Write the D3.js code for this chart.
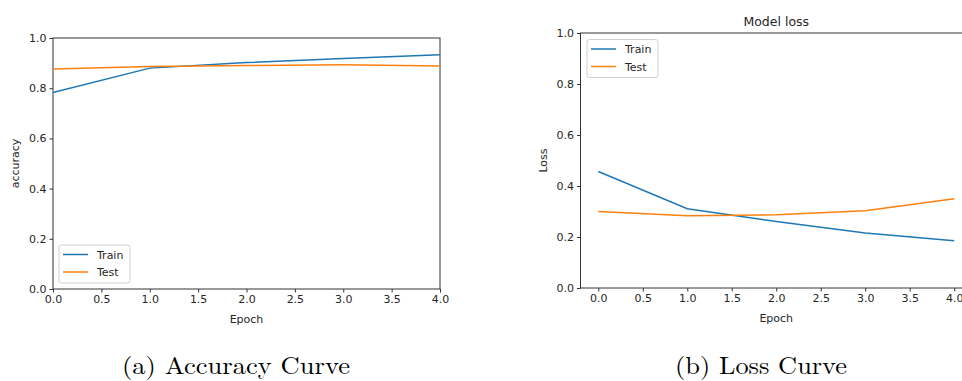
<!DOCTYPE html>
<html>
<head>
<meta charset="utf-8">
<script src="https://cdn.jsdelivr.net/npm/d3@7"></script>
<style>
  body { margin: 0; background: #fff; }
  svg { display: block; }
  text { font-family: "DejaVu Sans", sans-serif; fill: #262626; }
  .caption { font-family: "Latin Modern Roman", "DejaVu Serif", serif; fill: #000; }
</style>
</head>
<body>
<svg id="chart" width="962" height="381"></svg>
<script>
// data
const epochs = [0, 1, 2, 3, 4]
const accTrain = [0.783, 0.880, 0.902, 0.918, 0.933]
const accTest = [0.876, 0.886, 0.890, 0.893, 0.888]
const lossTrain = [0.457, 0.311, 0.261, 0.216, 0.185]
const lossTest = [0.300, 0.283, 0.287, 0.303, 0.350]
const xTicks = [0, 0.5, 1, 1.5, 2, 2.5, 3, 3.5, 4]
const yTicks = [0, 0.2, 0.4, 0.6, 0.8, 1.0]
const seriesNames = ["Train", "Test"]
const colors = ["#1f77b4", "#ff7f0e"]

const svg = d3.select("#chart")

function drawPanel(cfg) {
  const x = d3.scaleLinear().domain(cfg.xDomain).range([cfg.left, cfg.right])
  const y = d3.scaleLinear().domain([0, 1]).range([cfg.bottom, cfg.top])
  const g = svg.append("g")

  // frame
  g.append("rect")
    .attr("x", cfg.left).attr("y", cfg.top)
    .attr("width", cfg.right - cfg.left).attr("height", cfg.bottom - cfg.top)
    .attr("fill", "none").attr("stroke", "#333").attr("stroke-width", 1)

  const xAxis = d3.axisBottom(x).tickValues(xTicks).tickFormat(d3.format(".1f")).tickSize(3.5).tickPadding(3)
  const yAxis = d3.axisLeft(y).tickValues(yTicks).tickFormat(d3.format(".1f")).tickSize(3.5).tickPadding(3)

  g.append("g").attr("transform", `translate(0,${cfg.bottom})`).call(xAxis)
  g.append("g").attr("transform", `translate(${cfg.left},0)`).call(yAxis)
  g.selectAll(".domain").remove()
  g.selectAll(".tick line").attr("stroke", "#333")
  g.selectAll(".tick text").attr("font-size", 11).attr("fill", "#262626")
    .attr("font-family", "DejaVu Sans, sans-serif")

  const line = d3.line().x((d, i) => x(epochs[i])).y(d => y(d))
  cfg.series.forEach((s, i) => {
    g.append("path").datum(s)
      .attr("d", line).attr("fill", "none")
      .attr("stroke", colors[i]).attr("stroke-width", 1.5)
  })

  // axis labels
  const midX = (cfg.left + cfg.right) / 2
  g.append("text").attr("x", midX).attr("y", cfg.bottom + 34)
    .attr("text-anchor", "middle").attr("font-size", 11).text("Epoch")
  g.append("text")
    .attr("transform", `translate(${cfg.ylabelX},${(cfg.top + cfg.bottom) / 2}) rotate(-90)`)
    .attr("text-anchor", "middle").attr("font-size", 11).text(cfg.ylabel)

  if (cfg.title) {
    g.append("text").attr("x", midX).attr("y", cfg.top - 7)
      .attr("text-anchor", "middle").attr("font-size", 12.5).text(cfg.title)
  }

  // legend
  const lg = g.append("g").attr("transform", `translate(${cfg.legend[0]},${cfg.legend[1]})`)
  lg.append("rect").attr("width", 71).attr("height", 38).attr("rx", 2.5)
    .attr("fill", "#fff").attr("fill-opacity", 0.8).attr("stroke", "#d0d0d0").attr("stroke-width", 1)
  seriesNames.forEach((name, i) => {
    const yy = 9.5 + i * 17.5
    lg.append("line").attr("x1", 4).attr("x2", 29).attr("y1", yy).attr("y2", yy)
      .attr("stroke", colors[i]).attr("stroke-width", 1.5)
    lg.append("text").attr("x", 38).attr("y", yy + 4).attr("font-size", 11).text(name)
  })
}

drawPanel({
  left: 53, right: 440, top: 38, bottom: 289,
  xDomain: [0, 4],
  series: [accTrain, accTest],
  ylabel: "accuracy", ylabelX: 19,
  legend: [59, 245]
})

drawPanel({
  left: 580.5, right: 972, top: 33, bottom: 288,
  xDomain: [-0.2, 4.2],
  series: [lossTrain, lossTest],
  ylabel: "Loss", ylabelX: 547,
  title: "Model loss",
  legend: [587, 39.5]
})

// sub-figure captions
const captions = [["(a) Accuracy Curve", 122, 228], ["(b) Loss Curve", 675, 172]]
captions.forEach(c => {
  svg.append("text").attr("class", "caption")
    .attr("x", c[1]).attr("y", 374).attr("font-size", 24)
    .attr("textLength", c[2]).attr("lengthAdjust", "spacingAndGlyphs")
    .text(c[0])
})
</script>
</body>
</html>
